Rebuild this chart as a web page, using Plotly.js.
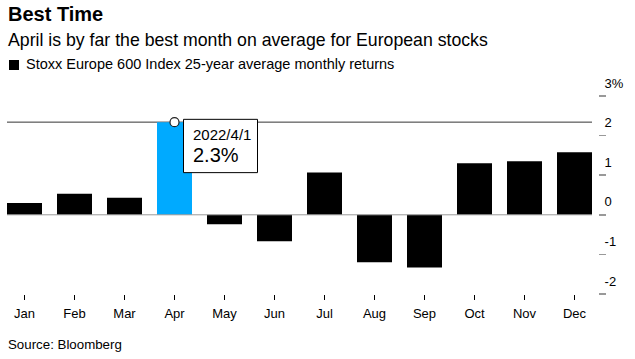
<!DOCTYPE html>
<html><head><meta charset="utf-8">
<script src="https://cdn.plot.ly/plotly-3.0.1.min.js"></script>
<style>html,body{margin:0;padding:0;background:#fff}#chart{width:635px;height:359px}</style>
</head><body><div id="chart"></div>
<script>
const months = ['Jan','Feb','Mar','Apr','May','Jun','Jul','Aug','Sep','Oct','Nov','Dec'];
const avgReturns = [0.30, 0.53, 0.43, 2.34, -0.24, -0.67, 1.07, -1.20, -1.33, 1.30, 1.35, 1.58];
const highlightMonth = 'Apr';
const highlightDate = '2022/4/1';
const yTickVals = [-2, -1, 0, 1, 2, 3];
const yTickText = ['-2', '-1', '0', '1', '2', '3%'];
const titleText = 'Best Time';
const subtitleText = 'April is by far the best month on average for European stocks';
const seriesName = 'Stoxx Europe 600 Index 25-year average monthly returns';
const sourceText = 'Source: Bloomberg';

const W = 635, H = 359, M = {l: 7, r: 37, t: 96, b: 65};
const plotH = H - M.t - M.b, plotW = W - M.l - M.r;
const py = p => (H - M.b - p) / plotH;
const px = p => (p - M.l) / plotW;
const hi = months.indexOf(highlightMonth);
const hiVal = avgReturns[hi];
const colors = months.map(m => m === highlightMonth ? '#00aaff' : '#000000');
const FONT = '"Liberation Sans", Arial, Helvetica, sans-serif';

const traces = [
  {type: 'bar', x: months, y: avgReturns, name: seriesName,
   marker: {color: colors, line: {width: 0}}, hoverinfo: 'skip', showlegend: false},
  {type: 'scatter', mode: 'markers', x: [highlightMonth], y: [hiVal],
   marker: {size: 9, color: '#ffffff', line: {width: 1.2, color: '#222222'}},
   cliponaxis: false, hoverinfo: 'skip', showlegend: false}
];

const layout = {
  width: W, height: H, margin: M,
  paper_bgcolor: '#ffffff', plot_bgcolor: '#ffffff',
  font: {family: FONT, color: '#000000', size: 13},
  showlegend: false, bargap: 0.3,
  xaxis: {type: 'category', range: [-0.35, 11.35], domain: [0, (592 - M.l) / plotW],
    showgrid: false, zeroline: false, showline: false,
    ticks: 'outside', ticklen: 5, tickcolor: '#000000', tickwidth: 1,
    ticklabelstandoff: 2,
    tickfont: {size: 13, color: '#000000'}, fixedrange: true},
  yaxis: {range: [-2, 3], anchor: 'free', position: 1, side: 'right',
    tickvals: yTickVals, ticktext: yTickText,
    showgrid: false, zeroline: false, showline: false,
    ticks: 'outside', ticklen: 7, tickcolor: '#999999', tickwidth: 1.5,
    ticklabelshift: -13, ticklabelstandoff: -4,
    tickfont: {size: 13, color: '#000000'}, fixedrange: true},
  shapes: [
    {type: 'line', xref: 'x domain', x0: 0, x1: 1, yref: 'y', y0: hiVal, y1: hiVal,
     line: {color: '#333333', width: 1}, layer: 'below'},
    {type: 'line', xref: 'x domain', x0: 0, x1: 1, yref: 'y', y0: 0, y1: 0,
     line: {color: '#999999', width: 1}, layer: 'above'},
    {type: 'rect', xref: 'x', xsizemode: 'pixel', xanchor: hi, x0: 9, x1: 83,
     yref: 'y', ysizemode: 'pixel', yanchor: hiVal, y0: -50.5, y1: 2.8,
     fillcolor: '#ffffff', line: {color: '#000000', width: 1}, layer: 'above'},
    {type: 'rect', xref: 'paper', yref: 'paper', x0: px(9), x1: px(19), y0: py(70), y1: py(60),
     fillcolor: '#000000', line: {width: 0}}
  ],
  annotations: [
    {xref: 'paper', yref: 'paper', x: px(6), y: py(14.2), xanchor: 'left', yanchor: 'middle',
     text: '<b>' + titleText + '</b>', showarrow: false, font: {size: 20, color: '#000000'}},
    {xref: 'paper', yref: 'paper', x: px(6), y: py(39.5), xanchor: 'left', yanchor: 'middle',
     text: subtitleText, showarrow: false, font: {size: 17.7, color: '#000000'}},
    {xref: 'paper', yref: 'paper', x: px(24), y: py(64.5), xanchor: 'left', yanchor: 'middle',
     text: seriesName, showarrow: false, font: {size: 14.5, color: '#000000'}},
    {xref: 'paper', yref: 'paper', x: px(6), y: py(344), xanchor: 'left', yanchor: 'middle',
     text: sourceText, showarrow: false, font: {size: 13.3, color: '#000000'}},
    {xref: 'x', yref: 'y', x: hi, y: hiVal, xshift: 16, yshift: -12.6, xanchor: 'left', yanchor: 'middle',
     text: highlightDate, showarrow: false, font: {size: 15, color: '#000000'}},
    {xref: 'x', yref: 'y', x: hi, y: hiVal, xshift: 16, yshift: -32.4, xanchor: 'left', yanchor: 'middle',
     text: hiVal.toFixed(1) + '%', showarrow: false, font: {size: 20, color: '#000000'}}
  ]
};

Plotly.newPlot('chart', traces, layout, {displayModeBar: false, staticPlot: true});
</script>
</body></html>
